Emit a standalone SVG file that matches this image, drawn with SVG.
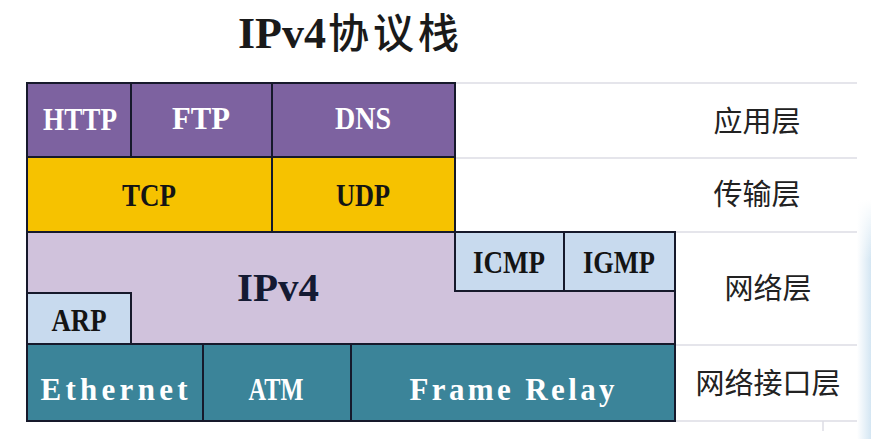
<svg xmlns="http://www.w3.org/2000/svg" width="871" height="439" viewBox="0 0 871 439">
<defs>
<linearGradient id="edge" x1="0" y1="0" x2="1" y2="0">
<stop offset="0" stop-color="#ffffff"/>
<stop offset="1" stop-color="#d4e6f3"/>
</linearGradient>
<linearGradient id="edgev" x1="0" y1="0" x2="0" y2="1">
<stop offset="0" stop-color="#ffffff" stop-opacity="1"/>
<stop offset="1" stop-color="#ffffff" stop-opacity="0"/>
</linearGradient>
</defs>
<style>
.box{stroke:#16192b;stroke-width:2;stroke-linejoin:miter}
.app{fill:#7d62a0}
.tr{fill:#f6c200}
.ip{fill:#d0c2dc}
.lb{fill:#c8daee}
.lk{fill:#3b8499}
.lbl{font-family:"Liberation Serif","DejaVu Serif",serif;font-weight:bold;font-size:31px;text-anchor:middle}
.w{fill:#ffffff}
.k{fill:#141414}
.cn{font-family:"Noto Sans CJK SC","Noto Sans",sans-serif;font-size:29px;fill:#222222;text-anchor:middle}
.grid{stroke:#dcdce4;stroke-width:1.5;fill:none}
</style>
<rect x="0" y="0" width="871" height="439" fill="#ffffff"/>
<rect x="857" y="200" width="14" height="239" fill="url(#edge)"/>
<rect x="857" y="200" width="14" height="60" fill="url(#edgev)"/>

<text id="title" x="238" y="48" style="font-family:'Liberation Serif','Noto Sans CJK SC',serif;font-size:44px;fill:#1a1a1a"><tspan font-weight="bold">IPv4</tspan><tspan dx="2" style="font-family:'Noto Sans CJK SC',sans-serif;font-size:41px;letter-spacing:4px" font-weight="500">协议栈</tspan></text>

<g id="guides">
<line class="grid" x1="455" y1="83" x2="857" y2="83"/>
<line class="grid" x1="455" y1="158" x2="857" y2="158"/>
<line class="grid" x1="675" y1="232" x2="857" y2="232"/>
<line class="grid" x1="675" y1="345" x2="857" y2="345"/>
<line class="grid" x1="675" y1="421" x2="857" y2="421"/>
<line class="grid" x1="823" y1="421" x2="823" y2="431" stroke-width="1"/>
</g>

<g id="connectors"></g>

<g id="ip">
<polygon class="box ip" points="27,232 455,232 455,291 675,291 675,344 131,344 131,293 27,293"/>
<text x="278" y="301" style="font-family:'Liberation Serif',serif;font-size:41px;font-weight:bold;fill:#141a33;text-anchor:middle">IPv4</text>
</g>
<g id="http"><rect class="box app" x="27" y="83" width="104" height="74"/><text class="lbl w" x="80" y="130" textLength="74" lengthAdjust="spacingAndGlyphs">HTTP</text></g>
<g id="ftp"><rect class="box app" x="131" y="83" width="141" height="74"/><text class="lbl w" x="201" y="129" textLength="58" lengthAdjust="spacingAndGlyphs">FTP</text></g>
<g id="dns"><rect class="box app" x="272" y="83" width="183" height="74"/><text class="lbl w" x="363" y="129" textLength="56" lengthAdjust="spacingAndGlyphs">DNS</text></g>
<g id="tcp"><rect class="box tr" x="27" y="157" width="245" height="75"/><text class="lbl k" x="149" y="206" textLength="54" lengthAdjust="spacingAndGlyphs">TCP</text></g>
<g id="udp"><rect class="box tr" x="272" y="157" width="183" height="75"/><text class="lbl k" x="363" y="206" textLength="54" lengthAdjust="spacingAndGlyphs">UDP</text></g>
<g id="icmp"><rect class="box lb" x="455" y="232" width="109" height="59"/><text class="lbl k" x="509" y="273" textLength="72" lengthAdjust="spacingAndGlyphs">ICMP</text></g>
<g id="igmp"><rect class="box lb" x="564" y="232" width="111" height="59"/><text class="lbl k" x="619" y="273" textLength="72" lengthAdjust="spacingAndGlyphs">IGMP</text></g>
<g id="arp"><rect class="box lb" x="27" y="293" width="104" height="51"/><text class="lbl k" x="79" y="331" textLength="55" lengthAdjust="spacingAndGlyphs">ARP</text></g>
<g id="ethernet"><rect class="box lk" x="27" y="344" width="176" height="77"/><text class="lbl w" x="114" y="400" textLength="147" lengthAdjust="spacing">Ethernet</text></g>
<g id="atm"><rect class="box lk" x="203" y="344" width="148" height="77"/><text class="lbl w" x="276" y="400" textLength="55" lengthAdjust="spacingAndGlyphs">ATM</text></g>
<g id="framerelay"><rect class="box lk" x="351" y="344" width="324" height="77"/><text class="lbl w" x="512" y="400" textLength="205" lengthAdjust="spacing">Frame Relay</text></g>

<g id="layer-app"><text class="cn" x="757" y="132">应用层</text></g>
<g id="layer-transport"><text class="cn" x="757" y="205">传输层</text></g>
<g id="layer-network"><text class="cn" x="768" y="299">网络层</text></g>
<g id="layer-link"><text class="cn" x="768" y="394">网络接口层</text></g>
</svg>
